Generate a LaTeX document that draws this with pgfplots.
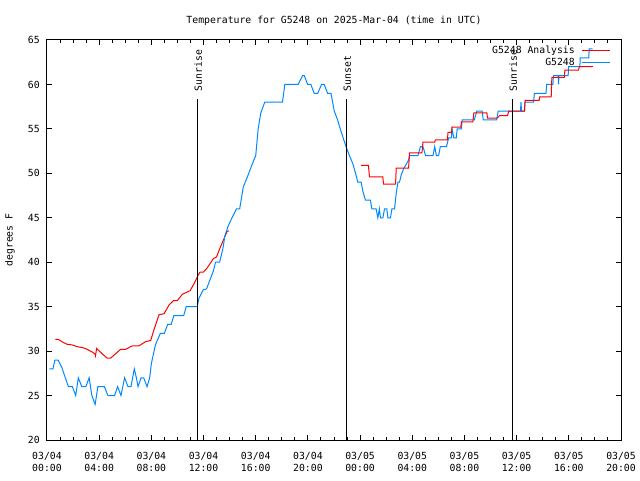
\documentclass[border=0pt]{standalone}
\usepackage{fontspec}
\setmainfont{DejaVu Sans Mono}
\usepackage{pgfplots}
\pgfplotsset{compat=1.18}
\definecolor{gblue}{RGB}{0,136,255}
\newcommand\fs{\fontsize{9.8pt}{12pt}\selectfont}
\begin{document}
\fs
\begin{tikzpicture}
\path[use as bounding box] (-47pt,-40pt) rectangle (593pt,440pt);
\begin{axis}[
  at={(0pt,0pt)}, anchor=south west,
  scale only axis, width=574pt, height=400pt,
  xmin=0, xmax=44, ymin=20, ymax=65,
  axis line style={line width=1pt, black},
  every tick/.style={black, line width=1pt},
  tick align=inside,
  major tick length=5pt, minor tick length=3pt,
  xtick={0,4,...,44},
  minor x tick num=3,
  ytick={20,25,...,65},
  xticklabels={03/04\\00:00,03/04\\04:00,03/04\\08:00,03/04\\12:00,03/04\\16:00,03/04\\20:00,03/05\\00:00,03/05\\04:00,03/05\\08:00,03/05\\12:00,03/05\\16:00,03/05\\20:00},
  xticklabel style={align=center, font=\fs, inner sep=0pt, anchor=north, yshift=-12pt},
  yticklabel style={font=\fs, inner sep=0pt, anchor=east, xshift=-7pt},
  /pgf/number format/assume math mode=true,
  title={Temperature for G5248 on 2025-Mar-04 (time in UTC)},
  title style={font=\fs, at={(axis description cs:0.5,1)}, anchor=base, yshift=10pt, inner sep=0pt},
  ylabel={degrees F},
  ylabel style={font=\fs, at={(axis description cs:-0.0645,0.5)}, anchor=center, rotate=0},
  legend plot pos=right,
  legend cell align=right,
  legend image code/.code={\draw[#1, line width=1pt] (0pt,0pt) -- (28pt,0pt);},
  legend style={at={(axis description cs:1,1)}, anchor=north east, xshift=-10pt, yshift=-4pt,
    draw=none, fill=none, font=\fs, inner sep=0pt, row sep=-1pt, column sep=5pt},
]
% G5248 Analysis (red)
\addplot[red, line width=1pt] coordinates {
(0.64,31.33) (0.9,31.3) (1.15,31.06) (1.54,30.76) (1.92,30.7) (2.31,30.5) (2.69,30.4)
(2.95,30.3) (3.2,30.1) (3.46,29.9) (3.67,29.7) (3.72,29.45) (3.8,30.3) (4.23,29.7)
(4.62,29.2) (4.87,29.2) (5.26,29.7) (5.64,30.2) (6.03,30.2) (6.54,30.6) (7.05,30.6)
(7.56,31.06) (7.95,31.2) (8.2,32.4) (8.59,34.1) (8.97,34.2) (9.36,35.2) (9.69,35.67)
(10.0,35.7) (10.38,36.4) (10.97,36.8) (11.28,37.6) (11.59,38.56) (11.72,38.87) (12.0,38.9)
(12.25,39.3) (12.75,40.4) (13.0,40.6) (13.25,41.56) (13.64,42.9) (13.82,43.5) (13.95,43.5)
};
\addlegendentry{G5248 Analysis}
% G5248 (blue)
\addplot[gblue, line width=1pt] coordinates {
(0.18,28) (0.46,28) (0.6,29) (0.85,29) (1.13,28.2) (1.38,27.1) (1.64,26) (1.95,26)
(2.2,25) (2.4,27) (2.67,26) (2.98,26) (3.23,27) (3.44,25) (3.69,24) (3.9,26) (4.4,26)
(4.67,25) (5.18,25) (5.41,26) (5.67,25) (5.95,27) (6.21,26) (6.44,26) (6.69,28) (6.85,27)
(6.98,26) (7.21,27) (7.41,27) (7.67,26) (7.87,27) (8.0,28.6) (8.31,30.7) (8.69,32) (9.0,32)
(9.25,33) (9.52,33) (9.72,34) (10.48,34) (10.67,35) (11.52,35) (11.64,35.9) (11.98,36.9)
(12.23,37) (12.54,38.2) (12.75,39) (12.92,40) (13.23,40) (13.48,41.5) (13.64,43) (13.87,44)
(14.21,45.1) (14.52,46) (14.77,46) (15.05,48.5) (15.36,49.6) (15.75,51.1) (16.0,52)
(16.18,54.9) (16.38,56.75) (16.69,58) (18.05,58) (18.23,60) (19.25,60) (19.59,61) (19.72,61)
(19.98,60) (20.23,60) (20.48,59) (20.75,59) (21.05,60) (21.25,60) (21.51,59) (21.77,59)
(22.02,57) (22.28,56) (22.48,55) (22.92,53) (23.18,52) (23.44,51.1) (23.69,49.8) (23.82,49)
(24.08,49) (24.21,48) (24.41,47) (24.79,47) (24.9,46) (25.23,46) (25.36,45) (25.48,46)
(25.56,45) (25.75,45) (25.87,46) (26.05,46) (26.13,45) (26.33,45) (26.44,46) (26.64,46)
(26.77,47.75) (26.9,49) (27.02,49) (27.15,49.8) (27.33,50.5) (27.72,51.5) (27.79,52)
(28.44,52) (28.62,53) (28.82,53) (29.02,52) (29.59,52) (29.72,53) (29.85,52) (30.02,52)
(30.15,53) (30.62,53) (30.79,54) (31.0,54) (31.05,55) (31.18,54) (31.38,54) (31.44,55)
(31.77,55) (31.82,56) (32.75,56) (32.95,57) (33.36,57) (33.44,56) (34.46,56) (34.59,57)
(36.3,57) (36.33,58) (36.38,57) (36.6,57) (36.64,58) (37.3,58) (37.36,59) (38.25,59)
(38.3,60) (38.78,60) (38.82,61) (39.18,61) (39.21,60) (39.25,61) (39.95,61) (39.98,62)
(40.85,62) (40.87,63) (41.53,63) (41.56,64) (41.82,64)
};
\addlegendentry{G5248}
% red, second segment
\addplot[red, line width=1pt, forget plot] coordinates {
(24.08,50.9) (24.64,50.9) (24.72,49.6) (25.74,49.6) (25.8,48.8) (26.72,48.8) (26.77,50.6)
(27.72,50.6) (27.79,52.3) (28.74,52.3) (28.82,53.5) (29.72,53.5) (29.77,53.75) (30.69,53.75)
(30.74,54.6) (31.0,54.6) (31.05,55.2) (31.72,55.2) (31.77,55.8) (32.65,55.8) (32.72,56.8)
(33.72,56.8) (33.77,56.2) (34.5,56.2) (34.7,56.5) (35.3,56.5) (35.4,57.0) (36.6,57.0)
(36.65,58.2) (37.72,58.2) (37.77,58.6) (38.65,58.6) (38.7,60.8) (39.65,60.8) (39.7,61.6)
(40.75,61.6) (40.8,62.0) (41.85,62.0)
};
% sunrise / sunset lines
\addplot[black, line width=1pt, forget plot] coordinates {(11.54,20) (11.54,58.33)};
\addplot[black, line width=1pt, forget plot] coordinates {(22.96,20) (22.96,58.33)};
\addplot[black, line width=1pt, forget plot] coordinates {(35.69,20) (35.69,58.33)};
\node[rotate=90, anchor=base west, inner sep=0pt, font=\fs] at (axis cs:11.87,59.2) {Sunrise};
\node[rotate=90, anchor=base west, inner sep=0pt, font=\fs] at (axis cs:23.29,59.2) {Sunset};
\node[rotate=90, anchor=base west, inner sep=0pt, font=\fs] at (axis cs:36.02,59.2) {Sunrise};
\end{axis}
\end{tikzpicture}
\end{document}
